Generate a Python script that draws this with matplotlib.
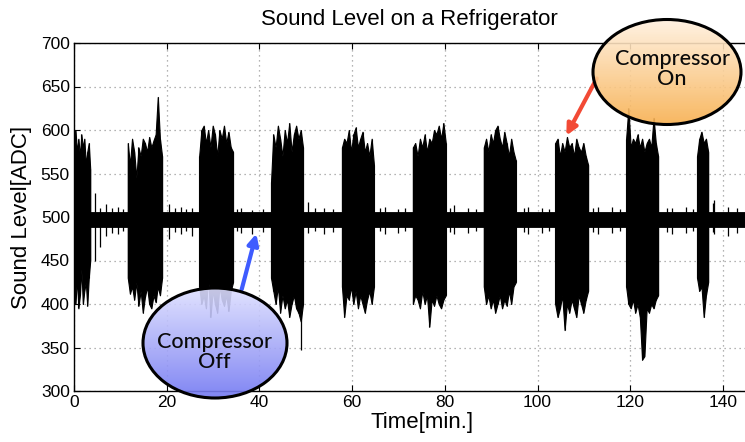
import numpy as np
import matplotlib
matplotlib.use("Agg")
import matplotlib.pyplot as plt
from matplotlib.patches import Ellipse, FancyArrowPatch
from matplotlib.colors import LinearSegmentedColormap
from matplotlib import font_manager

# ---------------- data ----------------
burst_start = [0.0, 11.6, 27.0, 42.5, 57.8, 73.1, 88.4, 103.8, 119.1, 134.4]
burst_end = [3.5, 19.0, 34.3, 49.4, 64.7, 80.2, 95.3, 110.9, 126.0, 136.8]
burst_upper = [
    [560, 600, 575, 590, 570, 595, 580, 590, 560, 575, 585, 555],
    [585, 560, 590, 575, 545, 580, 570, 590, 585, 575, 592, 580, 588, 595, 638, 590, 570],
    [570, 600, 605, 585, 600, 580, 605, 595, 570, 600, 590, 605, 585, 598, 580, 575],
    [540, 595, 580, 605, 590, 570, 600, 585, 608, 575, 595, 605, 590, 600, 580],
    [580, 590, 585, 600, 575, 595, 603, 580, 590, 598, 575, 585, 570, 590, 560],
    [580, 585, 570, 590, 580, 595, 575, 590, 585, 600, 595, 605, 590, 608, 585],
    [580, 590, 575, 595, 585, 600, 605, 590, 580, 598, 585, 570, 590, 575, 565],
    [585, 590, 570, 585, 575, 592, 580, 585, 570, 590, 580, 575, 585, 570, 560],
    [590, 625, 580, 590, 585, 595, 580, 590, 575, 585, 590, 580, 614, 585, 570],
    [570, 590, 598, 585, 590, 575],
]
burst_lower = [
    [420, 400, 430, 395, 410, 440, 400, 415, 425, 398, 430, 450],
    [430, 412, 420, 405, 425, 398, 415, 390, 408, 420, 400, 395, 410, 402, 420, 410, 430],
    [420, 400, 410, 395, 430, 385, 415, 400, 390, 420, 405, 398, 410, 392, 415, 425],
    [430, 415, 400, 420, 390, 410, 395, 405, 385, 400, 410, 395, 390, 380, 400],
    [420, 385, 410, 405, 420, 400, 415, 395, 410, 400, 390, 405, 415, 400, 420],
    [400, 410, 405, 395, 415, 400, 410, 374, 405, 398, 410, 400, 395, 405, 410],
    [420, 400, 410, 395, 405, 390, 400, 410, 395, 405, 398, 415, 400, 420, 425],
    [400, 385, 395, 410, 370, 400, 390, 405, 395, 385, 410, 400, 390, 405, 415],
    [420, 400, 395, 405, 390, 400, 385, 336, 340, 395, 390, 400, 395, 405, 410],
    [430, 415, 420, 385, 410, 425],
]
baseline_low = 489
baseline_high = 506
t_end = 145.5
spike_time = [4.5, 5.6, 7.0, 8.2, 9.5, 10.6, 20.5, 21.8, 23.0, 24.2, 25.5, 35.2, 36.0, 38.5,
              40.8, 49.0, 50.5, 52.0, 54.0, 55.8, 66.0, 67.0, 70.0, 71.5, 81.2, 82.0, 85.0,
              86.8, 97.0, 98.0, 101.0, 102.5, 112.0, 113.0, 116.0, 117.8, 128.0, 129.0,
              132.0, 133.5, 137.8, 138.0, 141.0, 143.0]
spike_low = [450, 465, 478, 482, 480, 484, 475, 483, 480, 484, 478, 484, 482, 480,
             483, 347, 482, 484, 480, 483, 484, 480, 482, 484, 483, 480, 482,
             484, 483, 480, 482, 484, 483, 480, 482, 484, 483, 480,
             482, 484, 483, 480, 478, 482]
spike_high = [528, 510, 515, 510, 512, 509, 515, 510, 512, 509, 510, 509, 510, 508,
              509, 506, 517, 510, 510, 509, 510, 512, 509, 510, 510, 514, 510,
              509, 510, 512, 510, 509, 510, 511, 512, 509, 510, 510,
              512, 509, 516, 520, 512, 510]

title = "Sound Level on a Refrigerator"
xlabel = "Time[min.]"
ylabel = "Sound Level[ADC]"
xticks = [0, 20, 40, 60, 80, 100, 120, 140]
yticks = [300, 350, 400, 450, 500, 550, 600, 650, 700]

# ---------------- fonts ----------------
names = {f.name for f in font_manager.fontManager.ttflist}
tick_font = ['Liberation Sans Narrow', 'Liberation Sans'] if 'Liberation Sans Narrow' in names else ['Liberation Sans']
main_font = ['Liberation Sans', 'DejaVu Sans']
bubble_font = ['Lato', 'DejaVu Sans']

W, H = 745, 442
fig = plt.figure(figsize=(W / 100, H / 100), dpi=100)
left = 74 / W
bottom = (H - 391) / H
top = (H - 43) / H
x_per_px = 140 / (723 - 74)
xmax = (W + 25 - 74) * x_per_px
ax = fig.add_axes([left, bottom, (W + 25 - 74) / W, top - bottom])
ax.set_xlim(0, xmax)
ax.set_ylim(300, 700)

# baseline
ax.fill_between([0, t_end], [baseline_low] * 2, [baseline_high] * 2, color='black', lw=0.6, zorder=3)
ax.vlines(spike_time, spike_low, spike_high, color='black', lw=0.9, zorder=3)
# bursts
for s, e, up, lo in zip(burst_start, burst_end, burst_upper, burst_lower):
    t = np.linspace(s, e, len(up))
    ax.fill_between(t, lo, up, color='black', lw=0.8, zorder=3)
    ax.vlines(t, lo, up, color='black', lw=0.8, zorder=3)

ax.set_xticks(xticks)
ax.set_yticks(yticks)
ax.grid(True, color='#9a9a9a', linestyle=(0, (1, 3)), lw=0.9)
ax.tick_params(direction='in', top=True, right=True, length=4, width=0.8, pad=3)
for lab in ax.get_xticklabels() + ax.get_yticklabels():
    lab.set_family(tick_font)
    lab.set_fontsize(12.5)
for sp in ax.spines.values():
    sp.set_linewidth(1.0)
ax.set_xlabel(xlabel, family=main_font, fontsize=16, labelpad=1)
ax.set_ylabel(ylabel, family=main_font, fontsize=16, labelpad=6)
fig.text(409 / W, 1 - 19 / H, title, family=main_font, fontsize=16, ha='center', va='center')

# ---------------- overlay callouts (pixel coordinates) ----------------
ov = fig.add_axes([0, 0, 1, 1], facecolor='none')
ov.set_xlim(0, W)
ov.set_ylim(0, H)
ov.axis('off')
ov.set_zorder(5)


def bubble(cx, cy, w, h, c_top, c_bot, text, tx, ty):
    cy = H - cy
    ty = H - ty
    ell = Ellipse((cx, cy), w, h, facecolor='none', edgecolor='black', lw=2.2, zorder=4)
    ov.add_patch(ell)
    cmap = LinearSegmentedColormap.from_list('g', [c_top, c_bot])
    grad = np.linspace(0, 1, 256).reshape(-1, 1)
    im = ov.imshow(grad, cmap=cmap, extent=[cx - w / 2, cx + w / 2, cy - h / 2, cy + h / 2],
                   origin='upper', aspect='auto', alpha=0.9, zorder=3)
    im.set_clip_path(ell)
    ov.text(tx, ty, text, family=bubble_font, fontsize=15.5, weight='medium', ha='center',
            va='center', linespacing=1.05, zorder=5, color='#0a0a0a')


bubble(215, 343, 144, 110, '#dfe0ff', '#7278f2', 'Compressor\nOff', 214, 352)
bubble(667, 72, 148, 105, '#fff1e0', '#f8b050', 'Compressor\nOn', 672, 69)

ov.add_patch(FancyArrowPatch((241, H - 292), (257, H - 231), arrowstyle='-|>', mutation_scale=16,
                             color='#3f5cff', lw=3, zorder=2))
ov.add_patch(FancyArrowPatch((598, H - 76), (565, H - 138), arrowstyle='-|>', mutation_scale=16,
                             color='#f24a35', lw=3, zorder=2))
ov.set_xlim(0, W)
ov.set_ylim(0, H)

fig.savefig('out.png', dpi=100)
